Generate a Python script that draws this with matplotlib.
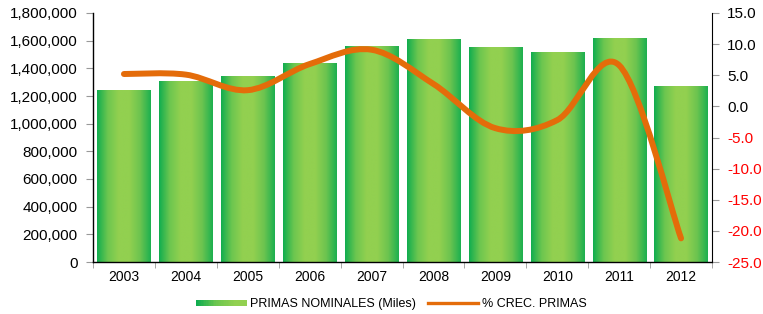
import numpy as np
import matplotlib.pyplot as plt
from matplotlib.colors import LinearSegmentedColormap
from matplotlib.path import Path
from matplotlib.patches import PathPatch, Rectangle
from matplotlib.lines import Line2D
from matplotlib.legend_handler import HandlerBase

plt.rcParams['font.family'] = ['Liberation Sans', 'DejaVu Sans']

years = ['2003', '2004', '2005', '2006', '2007', '2008', '2009', '2010', '2011', '2012']
primas = [1243000, 1308000, 1345000, 1438000, 1561000, 1612000, 1554000, 1518000, 1619000, 1272000]
crec = [5.2, 5.1, 2.6, 6.8, 9.1, 3.6, -3.5, -2.2, 6.6, -21.2]

left_ticks = [0, 200000, 400000, 600000, 800000, 1000000, 1200000, 1400000, 1600000, 1800000]
right_ticks = [-25, -20, -15, -10, -5, 0, 5, 10, 15]

green_cmap = LinearSegmentedColormap.from_list(
    'bar_green', ['#10ad4f', '#6cc64f', '#92d050', '#92d050', '#6cc44f', '#1cb050'])
orange = '#e46c0a'

fig = plt.figure(figsize=(7.63, 3.14), dpi=100)
ax = fig.add_axes([93 / 763, 1 - 262 / 314, (712 - 93) / 763, (262 - 13) / 314])
x = np.arange(len(years))

# bars with horizontal gradient
bars = ax.bar(x, primas, width=0.86, color='none', edgecolor='none', zorder=2)
grad = np.linspace(0, 1, 256).reshape(1, -1)
for b in bars:
    im = ax.imshow(grad, cmap=green_cmap, aspect='auto', zorder=2,
                   extent=[b.get_x(), b.get_x() + b.get_width(), 0, b.get_height()])
    im.set_clip_path(b)

ax.set_xlim(-0.5, len(years) - 0.5)
ax.set_ylim(0, 1800000)
ax.set_yticks(left_ticks)
ax.set_yticklabels([f'{v:,}' for v in left_ticks], fontsize=11)
ax.set_xticks(x)
ax.set_xticklabels(years, fontsize=10)
ax.set_xticks(np.arange(-0.5, len(years)), minor=True)
ax.tick_params(axis='x', which='major', length=0, pad=6)
ax.tick_params(axis='x', which='minor', length=4, color='#999999', direction='out')
ax.tick_params(axis='y', length=5, color='#999999', pad=6)
ax.spines['top'].set_visible(False)
ax.spines['right'].set_visible(False)
for s in ['left', 'bottom']:
    ax.spines[s].set_linewidth(1.0)
    ax.spines[s].set_color('black')

# right axis with smooth line
ax2 = ax.twinx()
ax2.set_ylim(-25, 15)
ax2.set_yticks(right_ticks)
ax2.set_yticklabels([f'{v:.1f}' for v in right_ticks], fontsize=11)
for lbl, v in zip(ax2.get_yticklabels(), right_ticks):
    lbl.set_color('red' if v < 0 else 'black')
ax2.tick_params(axis='y', length=5, color='#999999', pad=6)
for s in ['top', 'left', 'bottom']:
    ax2.spines[s].set_visible(False)
ax2.spines['right'].set_color('black')

pts = np.column_stack([x, crec]).astype(float)
padded = np.vstack([pts[0], pts, pts[-1]])
verts = [pts[0]]
codes = [Path.MOVETO]
for i in range(len(pts) - 1):
    p0, p1, p2, p3 = padded[i], padded[i + 1], padded[i + 2], padded[i + 3]
    c1 = p1 + (p2 - p0) / 6
    c2 = p2 - (p3 - p1) / 6
    verts += [c1, c2, p2]
    codes += [Path.CURVE4] * 3
line_patch = PathPatch(Path(verts, codes), facecolor='none', edgecolor=orange,
                       linewidth=4.3, capstyle='round', joinstyle='round', zorder=3)
ax2.add_patch(line_patch)


class GradientHandler(HandlerBase):
    def create_artists(self, legend, orig_handle, xdescent, ydescent, width, height, fontsize, trans):
        n = 30
        arts = []
        h = height * 0.7
        y0 = -ydescent + (height - h) / 2
        for k in range(n):
            r = Rectangle((-xdescent + width * k / n, y0), width / n + 0.3, h,
                          facecolor=green_cmap(k / (n - 1) * 0.5), edgecolor='none',
                          transform=trans)
            arts.append(r)
        return arts


bar_handle = Rectangle((0, 0), 1, 1)
line_handle = Line2D([], [], color=orange, linewidth=2.4)
fig.legend([bar_handle, line_handle], ['PRIMAS NOMINALES (Miles)', '% CREC. PRIMAS'],
           handler_map={Rectangle: GradientHandler()},
           loc='center', bbox_to_anchor=(0.513, 1 - 304 / 314), ncol=2, frameon=False,
           fontsize=9, handlelength=4.0, handletextpad=0.3, columnspacing=1.0)

fig.savefig('out.png', dpi=100)
